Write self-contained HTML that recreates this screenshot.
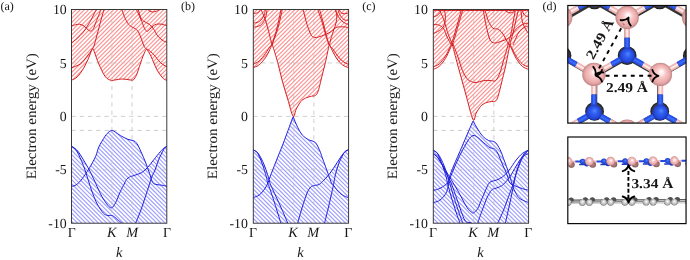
<!DOCTYPE html>
<html lang="en">
<head>
<meta charset="utf-8">
<title>Band structures</title>
<style>
html,body{margin:0;padding:0;background:#fff;}
body{width:690px;height:260px;overflow:hidden;font-family:"Liberation Serif",serif;}
svg{display:block;will-change:transform;}
text{font-family:"Liberation Serif",serif;fill:#161616;text-rendering:geometricPrecision;}
.tk{font-size:13.8px;}
.tki{font-size:14.3px;font-style:italic;}
.ax{font-size:14.2px;}
.axi{font-size:14.4px;font-style:italic;}
.pl{font-size:12px;}
.bd{font-size:13.6px;font-weight:bold;}
.grid{fill:none;stroke:#c2c2c2;stroke-width:0.8;}
.gh{stroke-dasharray:4.2 4.05;}
.gv{stroke-dasharray:4.1 4.1;stroke-dashoffset:5.5;}
.frame{fill:none;stroke:#303030;stroke-width:0.95;}
.frame2{fill:none;stroke:#0a0a0a;stroke-width:1.2;}
.hr{fill:none;stroke:#ff0000;stroke-width:1.15;stroke-opacity:0.43;}
.hb{fill:none;stroke:#0000ff;stroke-width:1.15;stroke-opacity:0.38;}
.br{fill:none;stroke:#d42022;stroke-width:1.0;stroke-linejoin:round;}
.bb{fill:none;stroke:#2020dc;stroke-width:1.0;stroke-linejoin:round;}
.dash{fill:none;stroke:#000;stroke-width:1.9;stroke-dasharray:3.9 4.5;}
</style>
</head>
<body>
<svg width="690" height="260" viewBox="0 0 690 260">
<rect x="0" y="0" width="690" height="260" fill="#fff"/>

<defs>
<radialGradient id="gB" cx="0.5" cy="0.5" r="0.5" fx="0.55" fy="0.38">
<stop offset="0" stop-color="#ffffff"/><stop offset="0.14" stop-color="#fff1f1"/><stop offset="0.42" stop-color="#f7c6c6"/><stop offset="0.78" stop-color="#eba9a9"/><stop offset="1" stop-color="#bd8787"/>
</radialGradient>
<radialGradient id="gB2" cx="0.5" cy="0.5" r="0.5">
<stop offset="0" stop-color="#b98383"/><stop offset="0.7" stop-color="#a06c6c"/><stop offset="1" stop-color="#7c5252"/>
</radialGradient>
<radialGradient id="gN" cx="0.5" cy="0.5" r="0.5" fx="0.56" fy="0.38">
<stop offset="0" stop-color="#5584ff"/><stop offset="0.4" stop-color="#2e5ef0"/><stop offset="0.8" stop-color="#2448d8"/><stop offset="1" stop-color="#1a30b0"/>
</radialGradient>
<radialGradient id="gC" cx="0.5" cy="0.5" r="0.5">
<stop offset="0" stop-color="#9a9a9a"/><stop offset="0.6" stop-color="#5a5a5a"/><stop offset="0.88" stop-color="#2c2c2c"/><stop offset="1" stop-color="#141414"/>
</radialGradient>
<radialGradient id="gG" cx="0.5" cy="0.5" r="0.5" fx="0.55" fy="0.38">
<stop offset="0" stop-color="#ffffff"/><stop offset="0.45" stop-color="#d2d2d2"/><stop offset="0.8" stop-color="#b0b0b0"/><stop offset="1" stop-color="#6e6e6e"/>
</radialGradient>
</defs>

<clipPath id="cp1"><rect x="71.50" y="9.50" width="95.30" height="213.70"/></clipPath>
<g clip-path="url(#cp1)">
<clipPath id="cr1"><path d="M71.50 7.50 L71.50 80.20 C72.45 79.67 75.22 78.93 77.20 77.00 C79.18 75.07 81.60 71.53 83.40 68.60 C85.20 65.67 86.70 62.25 88.00 59.40 C89.30 56.55 90.43 53.30 91.20 51.50 C91.97 49.70 92.10 48.60 92.60 48.60 C93.10 48.60 93.17 48.93 94.20 51.50 C95.23 54.07 97.00 59.87 98.80 64.00 C100.60 68.13 103.08 73.60 105.00 76.30 C106.92 79.00 109.15 79.50 110.30 80.20 C111.45 80.90 110.95 80.57 111.90 80.50 C112.85 80.43 114.35 80.05 116.00 79.80 C117.65 79.55 119.80 79.03 121.80 79.00 C123.80 78.97 126.20 79.40 128.00 79.60 C129.80 79.80 131.47 80.47 132.60 80.20 C133.73 79.93 134.03 79.17 134.80 78.00 C135.57 76.83 136.03 76.30 137.20 73.20 C138.37 70.10 140.50 63.02 141.80 59.40 C143.10 55.78 144.22 53.20 145.00 51.50 C145.78 49.80 145.97 49.20 146.50 49.20 C147.03 49.20 147.45 50.32 148.20 51.50 C148.95 52.68 149.50 53.18 151.00 56.30 C152.50 59.42 155.13 66.48 157.20 70.20 C159.27 73.92 161.77 76.93 163.40 78.60 C165.03 80.27 166.40 79.93 167.00 80.20 L166.80 7.50 Z"/></clipPath>
<path clip-path="url(#cr1)" d="M70.50 2.77L167.80 -94.53M70.50 6.94L167.80 -90.36M70.50 11.11L167.80 -86.19M70.50 15.28L167.80 -82.02M70.50 19.45L167.80 -77.85M70.50 23.62L167.80 -73.68M70.50 27.79L167.80 -69.51M70.50 31.96L167.80 -65.34M70.50 36.13L167.80 -61.17M70.50 40.30L167.80 -57.00M70.50 44.47L167.80 -52.83M70.50 48.64L167.80 -48.66M70.50 52.81L167.80 -44.49M70.50 56.98L167.80 -40.32M70.50 61.15L167.80 -36.15M70.50 65.32L167.80 -31.98M70.50 69.49L167.80 -27.81M70.50 73.66L167.80 -23.64M70.50 77.83L167.80 -19.47M70.50 82.00L167.80 -15.30M70.50 86.17L167.80 -11.13M70.50 90.34L167.80 -6.96M70.50 94.51L167.80 -2.79M70.50 98.68L167.80 1.38M70.50 102.85L167.80 5.55M70.50 107.02L167.80 9.72M70.50 111.19L167.80 13.89M70.50 115.36L167.80 18.06M70.50 119.53L167.80 22.23M70.50 123.70L167.80 26.40M70.50 127.87L167.80 30.57M70.50 132.04L167.80 34.74M70.50 136.21L167.80 38.91M70.50 140.38L167.80 43.08M70.50 144.55L167.80 47.25M70.50 148.72L167.80 51.42M70.50 152.89L167.80 55.59M70.50 157.06L167.80 59.76M70.50 161.23L167.80 63.93M70.50 165.40L167.80 68.10M70.50 169.57L167.80 72.27M70.50 173.74L167.80 76.44M70.50 177.91L167.80 80.61M70.50 182.08L167.80 84.78M70.50 186.25L167.80 88.95" class="hr"/>
<clipPath id="cb1"><path d="M71.50 225.20 L71.50 146.30 C72.08 146.67 73.78 147.47 75.00 148.50 C76.22 149.53 77.13 150.17 78.80 152.50 C80.47 154.83 83.40 159.75 85.00 162.50 C86.60 165.25 87.65 168.12 88.40 169.00 C89.15 169.88 88.28 169.92 89.50 167.80 C90.72 165.68 94.15 159.77 95.70 156.30 C97.25 152.83 97.25 150.33 98.80 147.00 C100.35 143.67 103.30 138.83 105.00 136.30 C106.70 133.77 107.87 132.77 109.00 131.80 C110.13 130.83 110.80 130.50 111.80 130.50 C112.80 130.50 113.58 130.97 115.00 131.80 C116.42 132.63 118.13 134.23 120.30 135.50 C122.47 136.77 125.82 138.55 128.00 139.40 C130.18 140.25 132.07 140.08 133.40 140.60 C134.73 141.12 135.10 141.43 136.00 142.50 C136.90 143.57 137.30 143.92 138.80 147.00 C140.30 150.08 143.53 157.50 145.00 161.00 C146.47 164.50 147.10 167.00 147.60 168.00 C148.10 169.00 146.93 168.43 148.00 167.00 C149.07 165.57 151.95 161.95 154.00 159.40 C156.05 156.85 158.63 153.60 160.30 151.70 C161.97 149.80 162.88 148.90 164.00 148.00 C165.12 147.10 166.50 146.58 167.00 146.30 L166.80 225.20 Z"/></clipPath>
<path clip-path="url(#cb1)" d="M70.50 24.19L167.80 121.49M70.50 28.36L167.80 125.66M70.50 32.53L167.80 129.83M70.50 36.70L167.80 134.00M70.50 40.87L167.80 138.17M70.50 45.04L167.80 142.34M70.50 49.21L167.80 146.51M70.50 53.38L167.80 150.68M70.50 57.55L167.80 154.85M70.50 61.72L167.80 159.02M70.50 65.89L167.80 163.19M70.50 70.06L167.80 167.36M70.50 74.23L167.80 171.53M70.50 78.40L167.80 175.70M70.50 82.57L167.80 179.87M70.50 86.74L167.80 184.04M70.50 90.91L167.80 188.21M70.50 95.08L167.80 192.38M70.50 99.25L167.80 196.55M70.50 103.42L167.80 200.72M70.50 107.59L167.80 204.89M70.50 111.76L167.80 209.06M70.50 115.93L167.80 213.23M70.50 120.10L167.80 217.40M70.50 124.27L167.80 221.57M70.50 128.44L167.80 225.74M70.50 132.61L167.80 229.91M70.50 136.78L167.80 234.08M70.50 140.95L167.80 238.25M70.50 145.12L167.80 242.42M70.50 149.29L167.80 246.59M70.50 153.46L167.80 250.76M70.50 157.63L167.80 254.93M70.50 161.80L167.80 259.10M70.50 165.97L167.80 263.27M70.50 170.14L167.80 267.44M70.50 174.31L167.80 271.61M70.50 178.48L167.80 275.78M70.50 182.65L167.80 279.95M70.50 186.82L167.80 284.12M70.50 190.99L167.80 288.29M70.50 195.16L167.80 292.46M70.50 199.33L167.80 296.63M70.50 203.50L167.80 300.80M70.50 207.67L167.80 304.97M70.50 211.84L167.80 309.14M70.50 216.01L167.80 313.31M70.50 220.18L167.80 317.48M70.50 224.35L167.80 321.65M70.50 228.52L167.80 325.82" class="hb"/>
<path d="M71.50 62.92H166.80M71.50 116.35H166.80M71.50 169.78H166.80M71.50 130.40H166.80" class="grid gh"/>
<path d="M111.92 9.50V223.20M132.07 9.50V223.20" class="grid gv"/>
<path d="M71.50 80.20 C72.45 79.67 75.22 78.93 77.20 77.00 C79.18 75.07 81.60 71.53 83.40 68.60 C85.20 65.67 86.70 62.25 88.00 59.40 C89.30 56.55 90.43 53.30 91.20 51.50 C91.97 49.70 92.10 48.60 92.60 48.60 C93.10 48.60 93.17 48.93 94.20 51.50 C95.23 54.07 97.00 59.87 98.80 64.00 C100.60 68.13 103.08 73.60 105.00 76.30 C106.92 79.00 109.15 79.50 110.30 80.20 C111.45 80.90 110.95 80.57 111.90 80.50 C112.85 80.43 114.35 80.05 116.00 79.80 C117.65 79.55 119.80 79.03 121.80 79.00 C123.80 78.97 126.20 79.40 128.00 79.60 C129.80 79.80 131.47 80.47 132.60 80.20 C133.73 79.93 134.03 79.17 134.80 78.00 C135.57 76.83 136.03 76.30 137.20 73.20 C138.37 70.10 140.50 63.02 141.80 59.40 C143.10 55.78 144.22 53.20 145.00 51.50 C145.78 49.80 145.97 49.20 146.50 49.20 C147.03 49.20 147.45 50.32 148.20 51.50 C148.95 52.68 149.50 53.18 151.00 56.30 C152.50 59.42 155.13 66.48 157.20 70.20 C159.27 73.92 161.77 76.93 163.40 78.60 C165.03 80.27 166.40 79.93 167.00 80.20M71.50 67.80 C72.97 67.17 77.80 65.80 80.30 64.00 C82.80 62.20 84.45 59.57 86.50 57.00 C88.55 54.43 91.35 50.43 92.60 48.60 C93.85 46.77 93.27 48.27 94.00 46.00 C94.73 43.73 95.83 39.33 97.00 35.00 C98.17 30.67 99.83 24.25 101.00 20.00 C102.17 15.75 103.50 11.25 104.00 9.50M71.50 26.00 C72.17 25.80 74.17 25.10 75.50 24.80 C76.83 24.50 78.08 24.00 79.50 24.20 C80.92 24.40 82.58 25.07 84.00 26.00 C85.42 26.93 86.83 28.97 88.00 29.80 C89.17 30.63 90.08 31.22 91.00 31.00 C91.92 30.78 92.67 30.00 93.50 28.50 C94.33 27.00 94.75 25.17 96.00 22.00 C97.25 18.83 100.17 11.58 101.00 9.50M71.50 43.00 C72.42 42.25 75.02 40.33 77.00 38.50 C78.98 36.67 81.57 34.25 83.40 32.00 C85.23 29.75 86.73 27.00 88.00 25.00 C89.27 23.00 90.00 21.83 91.00 20.00 C92.00 18.17 93.08 15.75 94.00 14.00 C94.92 12.25 96.08 10.25 96.50 9.50M121.80 9.50 C122.38 11.03 124.15 16.20 125.30 18.70 C126.45 21.20 127.58 23.12 128.70 24.50 C129.82 25.88 130.83 26.25 132.00 27.00 C133.17 27.75 134.53 28.00 135.70 29.00 C136.87 30.00 137.62 30.17 139.00 33.00 C140.38 35.83 142.75 43.30 144.00 46.00 C145.25 48.70 146.08 48.67 146.50 49.20M136.30 9.50 C136.67 10.25 137.58 12.02 138.50 14.00 C139.42 15.98 140.80 18.98 141.80 21.40 C142.80 23.82 143.63 26.83 144.50 28.50 C145.37 30.17 146.17 31.23 147.00 31.40 C147.83 31.57 148.47 30.42 149.50 29.50 C150.53 28.58 152.02 26.78 153.20 25.90 C154.38 25.02 155.18 24.48 156.60 24.20 C158.02 23.92 159.97 23.93 161.70 24.20 C163.43 24.47 166.12 25.53 167.00 25.80M138.20 9.50 C138.58 10.75 139.62 15.08 140.50 17.00 C141.38 18.92 142.25 19.92 143.50 21.00 C144.75 22.08 146.67 22.62 148.00 23.50 C149.33 24.38 150.42 25.13 151.50 26.30 C152.58 27.47 153.55 29.02 154.50 30.50 C155.45 31.98 155.95 33.62 157.20 35.20 C158.45 36.78 160.37 38.78 162.00 40.00 C163.63 41.22 166.17 42.08 167.00 42.50M147.70 9.50 C148.08 9.78 149.22 10.80 150.00 11.20 C150.78 11.60 151.30 11.90 152.40 11.90 C153.50 11.90 155.33 11.60 156.60 11.20 C157.87 10.80 159.43 9.78 160.00 9.50M167.00 67.00 C165.88 66.25 162.47 64.53 160.30 62.50 C158.13 60.47 156.05 56.95 154.00 54.80 C151.95 52.65 149.25 50.53 148.00 49.60 C146.75 48.67 146.75 49.27 146.50 49.20" class="br"/>
<path d="M71.50 186.30 C72.08 186.17 73.67 186.22 75.00 185.50 C76.33 184.78 77.83 183.78 79.50 182.00 C81.17 180.22 83.33 177.17 85.00 174.80 C86.67 172.43 87.72 170.88 89.50 167.80 C91.28 164.72 94.15 159.77 95.70 156.30 C97.25 152.83 97.25 150.33 98.80 147.00 C100.35 143.67 103.30 138.83 105.00 136.30 C106.70 133.77 107.87 132.77 109.00 131.80 C110.13 130.83 110.80 130.50 111.80 130.50 C112.80 130.50 113.58 130.97 115.00 131.80 C116.42 132.63 118.13 134.23 120.30 135.50 C122.47 136.77 125.82 138.55 128.00 139.40 C130.18 140.25 132.07 140.08 133.40 140.60 C134.73 141.12 135.10 141.43 136.00 142.50 C136.90 143.57 137.30 143.92 138.80 147.00 C140.30 150.08 143.22 156.63 145.00 161.00 C146.78 165.37 148.23 169.62 149.50 173.20 C150.77 176.78 151.35 180.60 152.60 182.50 C153.85 184.40 155.47 184.15 157.00 184.60 C158.53 185.05 160.13 184.92 161.80 185.20 C163.47 185.48 166.13 186.12 167.00 186.30M71.50 146.30 C72.08 146.67 73.78 147.47 75.00 148.50 C76.22 149.53 77.13 150.17 78.80 152.50 C80.47 154.83 82.97 159.05 85.00 162.50 C87.03 165.95 89.22 169.70 91.00 173.20 C92.78 176.70 93.90 179.65 95.70 183.50 C97.50 187.35 99.75 192.63 101.80 196.30 C103.85 199.97 106.33 203.58 108.00 205.50 C109.67 207.42 110.52 208.30 111.80 207.80 C113.08 207.30 114.28 205.18 115.70 202.50 C117.12 199.82 118.88 194.78 120.30 191.70 C121.72 188.62 123.17 186.03 124.20 184.00 C125.23 181.97 125.62 180.67 126.50 179.50 C127.38 178.33 128.25 177.67 129.50 177.00 C130.75 176.33 131.95 176.25 134.00 175.50 C136.05 174.75 139.47 173.92 141.80 172.50 C144.13 171.08 145.97 169.18 148.00 167.00 C150.03 164.82 151.95 161.95 154.00 159.40 C156.05 156.85 158.63 153.60 160.30 151.70 C161.97 149.80 162.88 148.90 164.00 148.00 C165.12 147.10 166.50 146.58 167.00 146.30M71.50 146.30 C72.00 146.67 73.55 147.60 74.50 148.50 C75.45 149.40 75.72 148.87 77.20 151.70 C78.68 154.53 81.60 160.88 83.40 165.50 C85.20 170.12 86.47 174.78 88.00 179.40 C89.53 184.02 91.07 189.10 92.60 193.20 C94.13 197.30 95.40 200.67 97.20 204.00 C99.00 207.33 101.60 211.28 103.40 213.20 C105.20 215.12 106.47 215.08 108.00 215.50 C109.53 215.92 111.07 215.05 112.60 215.70 C114.13 216.35 115.67 218.18 117.20 219.40 C118.73 220.62 121.03 222.40 121.80 223.00M135.70 223.00 C136.47 221.12 138.75 215.90 140.30 211.70 C141.85 207.50 143.47 202.42 145.00 197.80 C146.53 193.18 148.37 187.47 149.50 184.00 C150.63 180.53 150.88 179.33 151.80 177.00 C152.72 174.67 153.83 172.93 155.00 170.00 C156.17 167.07 157.40 162.73 158.80 159.40 C160.20 156.07 162.28 152.02 163.40 150.00 C164.52 147.98 164.90 147.92 165.50 147.30 C166.10 146.68 166.75 146.47 167.00 146.30" class="bb"/>
</g>
<rect x="71.50" y="9.50" width="95.30" height="213.70" class="frame"/>
<text x="66.70" y="14.10" class="tk" text-anchor="end">10</text>
<text x="66.70" y="67.52" class="tk" text-anchor="end">5</text>
<text x="66.70" y="120.95" class="tk" text-anchor="end">0</text>
<text x="66.70" y="174.38" class="tk" text-anchor="end">-5</text>
<text x="66.70" y="227.80" class="tk" text-anchor="end">-10</text>
<text x="71.80" y="237.40" class="tk" text-anchor="middle">Γ</text>
<text x="111.77" y="237.40" class="tki" text-anchor="middle">K</text>
<text x="132.12" y="237.40" class="tki" text-anchor="middle">M</text>
<text x="167.10" y="237.40" class="tk" text-anchor="middle">Γ</text>
<text x="119.15" y="256.60" class="axi" text-anchor="middle">k</text>
<text transform="translate(35.90 116.15) rotate(-90)" class="ax" text-anchor="middle" textLength="126" lengthAdjust="spacingAndGlyphs">Electron energy (eV)</text>
<text x="0.50" y="10.30" class="pl">(a)</text>
<clipPath id="cp2"><rect x="253.30" y="9.50" width="95.30" height="213.70"/></clipPath>
<g clip-path="url(#cp2)">
<clipPath id="cr2"><path d="M253.30 7.50 L253.00 67.80 C254.03 67.30 257.13 66.47 259.20 64.80 C261.27 63.13 263.73 60.10 265.40 57.80 C267.07 55.50 268.12 53.17 269.20 51.00 C270.28 48.83 271.33 45.72 271.90 44.80 C272.47 43.88 271.63 42.55 272.60 45.50 C273.57 48.45 276.08 56.58 277.70 62.50 C279.32 68.42 280.63 74.92 282.30 81.00 C283.97 87.08 285.90 93.10 287.70 99.00 C289.50 104.90 291.68 114.70 293.10 116.40 C294.52 118.10 294.92 111.68 296.20 109.20 C297.48 106.72 299.27 103.33 300.80 101.50 C302.33 99.67 303.62 99.08 305.40 98.20 C307.18 97.32 309.97 96.60 311.50 96.20 C313.03 95.80 313.68 96.20 314.60 95.80 C315.52 95.40 316.23 95.15 317.00 93.80 C317.77 92.45 318.53 90.00 319.20 87.70 C319.87 85.40 319.97 84.20 321.00 80.00 C322.03 75.80 324.07 68.20 325.40 62.50 C326.73 56.80 328.27 48.65 329.00 45.80 C329.73 42.95 329.13 44.37 329.80 45.40 C330.47 46.43 331.80 49.73 333.00 52.00 C334.20 54.27 335.45 56.87 337.00 59.00 C338.55 61.13 340.38 63.33 342.30 64.80 C344.22 66.27 347.47 67.30 348.50 67.80 L348.60 7.50 Z"/></clipPath>
<path clip-path="url(#cr2)" d="M252.30 2.07L349.60 -95.23M252.30 6.24L349.60 -91.06M252.30 10.41L349.60 -86.89M252.30 14.58L349.60 -82.72M252.30 18.75L349.60 -78.55M252.30 22.92L349.60 -74.38M252.30 27.09L349.60 -70.21M252.30 31.26L349.60 -66.04M252.30 35.43L349.60 -61.87M252.30 39.60L349.60 -57.70M252.30 43.77L349.60 -53.53M252.30 47.94L349.60 -49.36M252.30 52.11L349.60 -45.19M252.30 56.28L349.60 -41.02M252.30 60.45L349.60 -36.85M252.30 64.62L349.60 -32.68M252.30 68.79L349.60 -28.51M252.30 72.96L349.60 -24.34M252.30 77.13L349.60 -20.17M252.30 81.30L349.60 -16.00M252.30 85.47L349.60 -11.83M252.30 89.64L349.60 -7.66M252.30 93.81L349.60 -3.49M252.30 97.98L349.60 0.68M252.30 102.15L349.60 4.85M252.30 106.32L349.60 9.02M252.30 110.49L349.60 13.19M252.30 114.66L349.60 17.36M252.30 118.83L349.60 21.53M252.30 123.00L349.60 25.70M252.30 127.17L349.60 29.87M252.30 131.34L349.60 34.04M252.30 135.51L349.60 38.21M252.30 139.68L349.60 42.38M252.30 143.85L349.60 46.55M252.30 148.02L349.60 50.72M252.30 152.19L349.60 54.89M252.30 156.36L349.60 59.06M252.30 160.53L349.60 63.23M252.30 164.70L349.60 67.40M252.30 168.87L349.60 71.57M252.30 173.04L349.60 75.74M252.30 177.21L349.60 79.91M252.30 181.38L349.60 84.08M252.30 185.55L349.60 88.25M252.30 189.72L349.60 92.42M252.30 193.89L349.60 96.59M252.30 198.06L349.60 100.76M252.30 202.23L349.60 104.93M252.30 206.40L349.60 109.10M252.30 210.57L349.60 113.27M252.30 214.74L349.60 117.44M252.30 218.91L349.60 121.61" class="hr"/>
<clipPath id="cb2"><path d="M253.30 225.20 L253.00 149.80 C253.50 150.08 254.97 150.67 256.00 151.50 C257.03 152.33 257.90 152.72 259.20 154.80 C260.50 156.88 262.38 160.67 263.80 164.00 C265.22 167.33 266.87 172.38 267.70 174.80 C268.53 177.22 268.42 178.13 268.80 178.50 C269.18 178.87 268.77 179.92 270.00 177.00 C271.23 174.08 274.03 166.50 276.20 161.00 C278.37 155.50 281.03 149.08 283.00 144.00 C284.97 138.92 286.32 135.03 288.00 130.50 C289.68 125.97 291.48 117.32 293.10 116.80 C294.72 116.28 296.17 124.37 297.70 127.40 C299.23 130.43 300.50 132.95 302.30 135.00 C304.10 137.05 306.72 138.67 308.50 139.70 C310.28 140.73 311.72 140.57 313.00 141.20 C314.28 141.83 315.03 141.83 316.20 143.50 C317.37 145.17 318.98 148.82 320.00 151.20 C321.02 153.58 320.88 153.87 322.30 157.80 C323.72 161.73 327.32 171.68 328.50 174.80 C329.68 177.92 329.15 176.77 329.40 176.50 C329.65 176.23 328.87 175.28 330.00 173.20 C331.13 171.12 334.15 167.07 336.20 164.00 C338.25 160.93 340.75 156.88 342.30 154.80 C343.85 152.72 344.47 152.33 345.50 151.50 C346.53 150.67 348.00 150.08 348.50 149.80 L348.60 225.20 Z"/></clipPath>
<path clip-path="url(#cb2)" d="M252.30 13.09L349.60 110.39M252.30 17.26L349.60 114.56M252.30 21.43L349.60 118.73M252.30 25.60L349.60 122.90M252.30 29.77L349.60 127.07M252.30 33.94L349.60 131.24M252.30 38.11L349.60 135.41M252.30 42.28L349.60 139.58M252.30 46.45L349.60 143.75M252.30 50.62L349.60 147.92M252.30 54.79L349.60 152.09M252.30 58.96L349.60 156.26M252.30 63.13L349.60 160.43M252.30 67.30L349.60 164.60M252.30 71.47L349.60 168.77M252.30 75.64L349.60 172.94M252.30 79.81L349.60 177.11M252.30 83.98L349.60 181.28M252.30 88.15L349.60 185.45M252.30 92.32L349.60 189.62M252.30 96.49L349.60 193.79M252.30 100.66L349.60 197.96M252.30 104.83L349.60 202.13M252.30 109.00L349.60 206.30M252.30 113.17L349.60 210.47M252.30 117.34L349.60 214.64M252.30 121.51L349.60 218.81M252.30 125.68L349.60 222.98M252.30 129.85L349.60 227.15M252.30 134.02L349.60 231.32M252.30 138.19L349.60 235.49M252.30 142.36L349.60 239.66M252.30 146.53L349.60 243.83M252.30 150.70L349.60 248.00M252.30 154.87L349.60 252.17M252.30 159.04L349.60 256.34M252.30 163.21L349.60 260.51M252.30 167.38L349.60 264.68M252.30 171.55L349.60 268.85M252.30 175.72L349.60 273.02M252.30 179.89L349.60 277.19M252.30 184.06L349.60 281.36M252.30 188.23L349.60 285.53M252.30 192.40L349.60 289.70M252.30 196.57L349.60 293.87M252.30 200.74L349.60 298.04M252.30 204.91L349.60 302.21M252.30 209.08L349.60 306.38M252.30 213.25L349.60 310.55M252.30 217.42L349.60 314.72M252.30 221.59L349.60 318.89M252.30 225.76L349.60 323.06M252.30 229.93L349.60 327.23" class="hb"/>
<path d="M253.30 62.92H348.60M253.30 116.35H348.60M253.30 169.78H348.60" class="grid gh"/>
<path d="M293.72 9.50V223.20M313.87 9.50V223.20" class="grid gv"/>
<path d="M253.00 67.80 C254.03 67.30 257.13 66.47 259.20 64.80 C261.27 63.13 263.73 60.10 265.40 57.80 C267.07 55.50 268.12 53.17 269.20 51.00 C270.28 48.83 271.33 45.72 271.90 44.80 C272.47 43.88 271.63 42.55 272.60 45.50 C273.57 48.45 276.08 56.58 277.70 62.50 C279.32 68.42 280.63 74.92 282.30 81.00 C283.97 87.08 285.90 93.10 287.70 99.00 C289.50 104.90 291.68 114.70 293.10 116.40 C294.52 118.10 294.92 111.68 296.20 109.20 C297.48 106.72 299.27 103.33 300.80 101.50 C302.33 99.67 303.62 99.08 305.40 98.20 C307.18 97.32 309.97 96.60 311.50 96.20 C313.03 95.80 313.68 96.20 314.60 95.80 C315.52 95.40 316.23 95.15 317.00 93.80 C317.77 92.45 318.53 90.00 319.20 87.70 C319.87 85.40 319.97 84.20 321.00 80.00 C322.03 75.80 324.07 68.20 325.40 62.50 C326.73 56.80 328.27 48.65 329.00 45.80 C329.73 42.95 329.13 44.37 329.80 45.40 C330.47 46.43 331.80 49.73 333.00 52.00 C334.20 54.27 335.45 56.87 337.00 59.00 C338.55 61.13 340.38 63.33 342.30 64.80 C344.22 66.27 347.47 67.30 348.50 67.80M253.00 64.40 C254.03 63.83 257.13 62.80 259.20 61.00 C261.27 59.20 263.67 55.93 265.40 53.60 C267.13 51.27 268.52 48.47 269.60 47.00 C270.68 45.53 271.17 46.30 271.90 44.80 C272.63 43.30 273.15 40.80 274.00 38.00 C274.85 35.20 275.83 32.75 277.00 28.00 C278.17 23.25 280.33 12.58 281.00 9.50M271.90 44.80 C272.42 43.50 273.90 40.13 275.00 37.00 C276.10 33.87 277.28 30.58 278.50 26.00 C279.72 21.42 281.67 12.25 282.30 9.50M348.50 64.40 C347.47 63.83 344.22 62.57 342.30 61.00 C340.38 59.43 338.63 57.08 337.00 55.00 C335.37 52.92 333.75 50.08 332.50 48.50 C331.25 46.92 330.42 47.25 329.50 45.50 C328.58 43.75 328.08 41.92 327.00 38.00 C325.92 34.08 324.23 26.75 323.00 22.00 C321.77 17.25 320.17 11.58 319.60 9.50M329.50 45.50 C328.92 43.92 327.25 39.92 326.00 36.00 C324.75 32.08 323.37 26.42 322.00 22.00 C320.63 17.58 318.50 11.58 317.80 9.50M253.30 23.00 C254.17 22.83 256.93 22.85 258.50 22.00 C260.07 21.15 261.68 19.32 262.70 17.90 C263.72 16.48 264.17 14.90 264.60 13.50 C265.03 12.10 265.18 10.17 265.30 9.50M253.30 27.20 C254.45 26.92 258.35 26.63 260.20 25.50 C262.05 24.37 263.40 22.15 264.40 20.40 C265.40 18.65 265.77 16.82 266.20 15.00 C266.63 13.18 266.87 10.42 267.00 9.50M253.30 13.60 C254.02 13.47 256.58 13.17 257.60 12.80 C258.62 12.43 258.97 11.95 259.40 11.40 C259.83 10.85 260.07 9.82 260.20 9.50M261.00 9.50 C261.72 11.18 264.03 15.95 265.30 19.60 C266.57 23.25 267.62 27.73 268.60 31.40 C269.58 35.07 270.58 39.17 271.20 41.60 C271.82 44.03 272.12 45.27 272.30 46.00M303.10 9.50 C303.42 10.75 304.35 14.50 305.00 17.00 C305.65 19.50 306.03 21.58 307.00 24.50 C307.97 27.42 309.72 32.42 310.80 34.50 C311.88 36.58 312.60 36.50 313.50 37.00 C314.40 37.50 315.12 37.58 316.20 37.50 C317.28 37.42 318.73 36.88 320.00 36.50 C321.27 36.12 322.13 35.92 323.80 35.20 C325.47 34.48 327.93 33.47 330.00 32.20 C332.07 30.93 334.15 28.50 336.20 27.60 C338.25 26.70 340.25 26.82 342.30 26.80 C344.35 26.78 347.47 27.38 348.50 27.50M348.60 20.40 C347.82 20.27 345.38 20.58 343.90 19.60 C342.42 18.62 340.68 16.18 339.70 14.50 C338.72 12.82 338.28 10.33 338.00 9.50M335.40 9.50 C335.70 10.25 336.48 12.47 337.20 14.00 C337.92 15.53 338.57 17.27 339.70 18.70 C340.83 20.13 342.52 21.62 344.00 22.60 C345.48 23.58 347.83 24.27 348.60 24.60M338.80 9.50 C339.10 9.95 339.90 11.52 340.60 12.20 C341.30 12.88 342.10 13.37 343.00 13.60 C343.90 13.83 345.07 13.73 346.00 13.60 C346.93 13.47 348.17 12.93 348.60 12.80M335.40 9.50 C335.63 10.58 336.70 13.75 336.80 16.00 C336.90 18.25 336.52 20.67 336.00 23.00 C335.48 25.33 334.43 27.75 333.70 30.00 C332.97 32.25 332.17 34.67 331.60 36.50 C331.03 38.33 330.63 39.55 330.30 41.00 C329.97 42.45 329.72 44.50 329.60 45.20" class="br"/>
<path d="M253.00 197.80 C254.03 197.33 257.40 196.27 259.20 195.00 C261.00 193.73 262.38 192.10 263.80 190.20 C265.22 188.30 266.67 185.80 267.70 183.60 C268.73 181.40 268.58 180.77 270.00 177.00 C271.42 173.23 274.03 166.50 276.20 161.00 C278.37 155.50 281.03 149.08 283.00 144.00 C284.97 138.92 286.32 135.03 288.00 130.50 C289.68 125.97 292.25 119.08 293.10 116.80M293.10 116.80 C293.87 118.57 296.17 124.37 297.70 127.40 C299.23 130.43 300.50 132.95 302.30 135.00 C304.10 137.05 306.72 138.67 308.50 139.70 C310.28 140.73 311.72 140.57 313.00 141.20 C314.28 141.83 315.03 141.83 316.20 143.50 C317.37 145.17 318.98 148.82 320.00 151.20 C321.02 153.58 320.88 153.87 322.30 157.80 C323.72 161.73 326.97 170.57 328.50 174.80 C330.03 179.03 330.75 181.57 331.50 183.20 C332.25 184.83 331.97 183.30 333.00 184.60 C334.03 185.90 336.15 189.27 337.70 191.00 C339.25 192.73 340.50 193.87 342.30 195.00 C344.10 196.13 347.47 197.33 348.50 197.80M253.00 149.80 C253.50 150.08 254.97 150.67 256.00 151.50 C257.03 152.33 257.90 152.72 259.20 154.80 C260.50 156.88 262.38 160.67 263.80 164.00 C265.22 167.33 266.67 171.60 267.70 174.80 C268.73 178.00 269.12 180.67 270.00 183.20 C270.88 185.73 271.20 186.03 273.00 190.00 C274.80 193.97 278.35 201.50 280.80 207.00 C283.25 212.50 286.55 220.33 287.70 223.00M253.00 149.80 C253.42 150.00 254.72 150.43 255.50 151.00 C256.28 151.57 256.57 151.03 257.70 153.20 C258.83 155.37 260.88 160.15 262.30 164.00 C263.72 167.85 265.30 173.10 266.20 176.30 C267.10 179.50 267.20 181.42 267.70 183.20 C268.20 184.98 268.05 183.70 269.20 187.00 C270.35 190.30 272.67 197.00 274.60 203.00 C276.53 209.00 279.77 219.67 280.80 223.00M297.70 223.00 C298.47 220.33 300.75 211.97 302.30 207.00 C303.85 202.03 305.58 196.53 307.00 193.20 C308.42 189.87 309.53 188.28 310.80 187.00 C312.07 185.72 313.20 185.93 314.60 185.50 C316.00 185.07 317.67 185.28 319.20 184.40 C320.73 183.52 322.00 182.07 323.80 180.20 C325.60 178.33 327.93 175.90 330.00 173.20 C332.07 170.50 334.15 167.07 336.20 164.00 C338.25 160.93 340.75 156.88 342.30 154.80 C343.85 152.72 344.47 152.33 345.50 151.50 C346.53 150.67 348.00 150.08 348.50 149.80M324.60 223.00 C325.25 220.33 327.22 212.47 328.50 207.00 C329.78 201.53 331.42 194.17 332.30 190.20 C333.18 186.23 333.28 185.77 333.80 183.20 C334.32 180.63 334.50 178.25 335.40 174.80 C336.30 171.35 337.80 166.10 339.20 162.50 C340.60 158.90 342.67 155.15 343.80 153.20 C344.93 151.25 345.22 151.37 346.00 150.80 C346.78 150.23 348.08 149.97 348.50 149.80" class="bb"/>
</g>
<rect x="253.30" y="9.50" width="95.30" height="213.70" class="frame"/>
<text x="247.90" y="14.10" class="tk" text-anchor="end">10</text>
<text x="247.90" y="67.52" class="tk" text-anchor="end">5</text>
<text x="247.90" y="120.95" class="tk" text-anchor="end">0</text>
<text x="247.90" y="174.38" class="tk" text-anchor="end">-5</text>
<text x="247.90" y="227.80" class="tk" text-anchor="end">-10</text>
<text x="253.00" y="237.40" class="tk" text-anchor="middle">Γ</text>
<text x="292.97" y="237.40" class="tki" text-anchor="middle">K</text>
<text x="313.32" y="237.40" class="tki" text-anchor="middle">M</text>
<text x="348.30" y="237.40" class="tk" text-anchor="middle">Γ</text>
<text x="300.35" y="256.60" class="axi" text-anchor="middle">k</text>
<text transform="translate(216.70 116.15) rotate(-90)" class="ax" text-anchor="middle" textLength="126" lengthAdjust="spacingAndGlyphs">Electron energy (eV)</text>
<text x="181.00" y="10.30" class="pl">(b)</text>
<clipPath id="cp3"><rect x="433.30" y="9.50" width="95.30" height="213.70"/></clipPath>
<g clip-path="url(#cp3)">
<clipPath id="cr3"><path d="M433.30 7.50 L433.00 67.00 C434.03 66.50 437.13 65.78 439.20 64.00 C441.27 62.22 443.60 59.13 445.40 56.30 C447.20 53.47 448.97 49.12 450.00 47.00 C451.03 44.88 451.20 43.93 451.60 43.60 C452.00 43.27 451.63 42.37 452.40 45.00 C453.17 47.63 454.80 54.18 456.20 59.40 C457.60 64.62 459.17 70.37 460.80 76.30 C462.43 82.23 463.97 87.78 466.00 95.00 C468.03 102.22 471.30 116.60 473.00 119.60 C474.70 122.60 474.90 115.23 476.20 113.00 C477.50 110.77 479.27 107.87 480.80 106.20 C482.33 104.53 483.62 103.78 485.40 103.00 C487.18 102.22 489.97 101.75 491.50 101.50 C493.03 101.25 493.68 101.88 494.60 101.50 C495.52 101.12 496.23 100.73 497.00 99.20 C497.77 97.67 498.45 95.00 499.20 92.30 C499.95 89.60 500.47 87.22 501.50 83.00 C502.53 78.78 504.23 72.22 505.40 67.00 C506.57 61.78 507.75 55.45 508.50 51.70 C509.25 47.95 509.53 45.52 509.90 44.50 C510.27 43.48 509.65 43.63 510.70 45.60 C511.75 47.57 514.27 53.23 516.20 56.30 C518.13 59.37 520.25 62.22 522.30 64.00 C524.35 65.78 527.47 66.50 528.50 67.00 L528.60 7.50 Z"/></clipPath>
<path clip-path="url(#cr3)" d="M432.30 2.07L529.60 -95.23M432.30 6.24L529.60 -91.06M432.30 10.41L529.60 -86.89M432.30 14.58L529.60 -82.72M432.30 18.75L529.60 -78.55M432.30 22.92L529.60 -74.38M432.30 27.09L529.60 -70.21M432.30 31.26L529.60 -66.04M432.30 35.43L529.60 -61.87M432.30 39.60L529.60 -57.70M432.30 43.77L529.60 -53.53M432.30 47.94L529.60 -49.36M432.30 52.11L529.60 -45.19M432.30 56.28L529.60 -41.02M432.30 60.45L529.60 -36.85M432.30 64.62L529.60 -32.68M432.30 68.79L529.60 -28.51M432.30 72.96L529.60 -24.34M432.30 77.13L529.60 -20.17M432.30 81.30L529.60 -16.00M432.30 85.47L529.60 -11.83M432.30 89.64L529.60 -7.66M432.30 93.81L529.60 -3.49M432.30 97.98L529.60 0.68M432.30 102.15L529.60 4.85M432.30 106.32L529.60 9.02M432.30 110.49L529.60 13.19M432.30 114.66L529.60 17.36M432.30 118.83L529.60 21.53M432.30 123.00L529.60 25.70M432.30 127.17L529.60 29.87M432.30 131.34L529.60 34.04M432.30 135.51L529.60 38.21M432.30 139.68L529.60 42.38M432.30 143.85L529.60 46.55M432.30 148.02L529.60 50.72M432.30 152.19L529.60 54.89M432.30 156.36L529.60 59.06M432.30 160.53L529.60 63.23M432.30 164.70L529.60 67.40M432.30 168.87L529.60 71.57M432.30 173.04L529.60 75.74M432.30 177.21L529.60 79.91M432.30 181.38L529.60 84.08M432.30 185.55L529.60 88.25M432.30 189.72L529.60 92.42M432.30 193.89L529.60 96.59M432.30 198.06L529.60 100.76M432.30 202.23L529.60 104.93M432.30 206.40L529.60 109.10M432.30 210.57L529.60 113.27M432.30 214.74L529.60 117.44M432.30 218.91L529.60 121.61M432.30 223.08L529.60 125.78" class="hr"/>
<clipPath id="cb3"><path d="M433.30 225.20 L433.00 150.20 C433.50 150.50 434.97 151.12 436.00 152.00 C437.03 152.88 437.90 153.33 439.20 155.50 C440.50 157.67 442.38 161.58 443.80 165.00 C445.22 168.42 446.90 173.75 447.70 176.00 C448.50 178.25 448.25 178.50 448.60 178.50 C448.95 178.50 448.65 178.83 449.80 176.00 C450.95 173.17 453.80 165.63 455.50 161.50 C457.20 157.37 458.17 155.45 460.00 151.20 C461.83 146.95 464.33 141.02 466.50 136.00 C468.67 130.98 471.13 122.27 473.00 121.10 C474.87 119.93 476.15 126.55 477.70 129.00 C479.25 131.45 480.50 133.88 482.30 135.80 C484.10 137.72 486.58 139.55 488.50 140.50 C490.42 141.45 492.38 140.87 493.80 141.50 C495.22 142.13 495.83 142.68 497.00 144.30 C498.17 145.92 499.72 148.83 500.80 151.20 C501.88 153.57 502.05 154.53 503.50 158.50 C504.95 162.47 508.37 171.92 509.50 175.00 C510.63 178.08 510.05 177.17 510.30 177.00 C510.55 176.83 509.97 176.08 511.00 174.00 C512.03 171.92 514.62 167.58 516.50 164.50 C518.38 161.42 520.80 157.58 522.30 155.50 C523.80 153.42 524.47 152.88 525.50 152.00 C526.53 151.12 528.00 150.50 528.50 150.20 L528.60 225.20 Z"/></clipPath>
<path clip-path="url(#cb3)" d="M432.30 17.26L529.60 114.56M432.30 21.43L529.60 118.73M432.30 25.60L529.60 122.90M432.30 29.77L529.60 127.07M432.30 33.94L529.60 131.24M432.30 38.11L529.60 135.41M432.30 42.28L529.60 139.58M432.30 46.45L529.60 143.75M432.30 50.62L529.60 147.92M432.30 54.79L529.60 152.09M432.30 58.96L529.60 156.26M432.30 63.13L529.60 160.43M432.30 67.30L529.60 164.60M432.30 71.47L529.60 168.77M432.30 75.64L529.60 172.94M432.30 79.81L529.60 177.11M432.30 83.98L529.60 181.28M432.30 88.15L529.60 185.45M432.30 92.32L529.60 189.62M432.30 96.49L529.60 193.79M432.30 100.66L529.60 197.96M432.30 104.83L529.60 202.13M432.30 109.00L529.60 206.30M432.30 113.17L529.60 210.47M432.30 117.34L529.60 214.64M432.30 121.51L529.60 218.81M432.30 125.68L529.60 222.98M432.30 129.85L529.60 227.15M432.30 134.02L529.60 231.32M432.30 138.19L529.60 235.49M432.30 142.36L529.60 239.66M432.30 146.53L529.60 243.83M432.30 150.70L529.60 248.00M432.30 154.87L529.60 252.17M432.30 159.04L529.60 256.34M432.30 163.21L529.60 260.51M432.30 167.38L529.60 264.68M432.30 171.55L529.60 268.85M432.30 175.72L529.60 273.02M432.30 179.89L529.60 277.19M432.30 184.06L529.60 281.36M432.30 188.23L529.60 285.53M432.30 192.40L529.60 289.70M432.30 196.57L529.60 293.87M432.30 200.74L529.60 298.04M432.30 204.91L529.60 302.21M432.30 209.08L529.60 306.38M432.30 213.25L529.60 310.55M432.30 217.42L529.60 314.72M432.30 221.59L529.60 318.89M432.30 225.76L529.60 323.06M432.30 229.93L529.60 327.23" class="hb"/>
<path d="M433.30 62.92H528.60M433.30 116.35H528.60M433.30 169.78H528.60M433.30 130.40H528.60" class="grid gh"/>
<path d="M473.72 9.50V223.20M493.87 9.50V223.20" class="grid gv"/>
<path d="M433.00 67.00 C434.03 66.50 437.13 65.78 439.20 64.00 C441.27 62.22 443.60 59.13 445.40 56.30 C447.20 53.47 448.97 49.12 450.00 47.00 C451.03 44.88 451.20 43.93 451.60 43.60 C452.00 43.27 451.63 42.37 452.40 45.00 C453.17 47.63 454.80 54.18 456.20 59.40 C457.60 64.62 459.17 70.37 460.80 76.30 C462.43 82.23 463.97 87.78 466.00 95.00 C468.03 102.22 471.30 116.60 473.00 119.60 C474.70 122.60 474.90 115.23 476.20 113.00 C477.50 110.77 479.27 107.87 480.80 106.20 C482.33 104.53 483.62 103.78 485.40 103.00 C487.18 102.22 489.97 101.75 491.50 101.50 C493.03 101.25 493.68 101.88 494.60 101.50 C495.52 101.12 496.23 100.73 497.00 99.20 C497.77 97.67 498.45 95.00 499.20 92.30 C499.95 89.60 500.47 87.22 501.50 83.00 C502.53 78.78 504.23 72.22 505.40 67.00 C506.57 61.78 507.75 55.45 508.50 51.70 C509.25 47.95 509.53 45.52 509.90 44.50 C510.27 43.48 509.65 43.63 510.70 45.60 C511.75 47.57 514.27 53.23 516.20 56.30 C518.13 59.37 520.25 62.22 522.30 64.00 C524.35 65.78 527.47 66.50 528.50 67.00M433.00 69.50 C434.03 68.97 437.13 68.12 439.20 66.30 C441.27 64.48 443.60 61.48 445.40 58.60 C447.20 55.72 448.87 51.37 450.00 49.00 C451.13 46.63 451.70 45.23 452.20 44.40 C452.70 43.57 452.08 42.02 453.00 44.00 C453.92 45.98 456.15 51.93 457.70 56.30 C459.25 60.67 460.75 66.48 462.30 70.20 C463.85 73.92 465.47 76.68 467.00 78.60 C468.53 80.52 469.97 81.05 471.50 81.70 C473.03 82.35 474.15 82.68 476.20 82.50 C478.25 82.32 481.25 80.92 483.80 80.60 C486.35 80.28 489.70 80.53 491.50 80.60 C493.30 80.67 493.57 81.47 494.60 81.00 C495.63 80.53 496.67 79.60 497.70 77.80 C498.73 76.00 499.78 73.27 500.80 70.20 C501.82 67.13 502.77 63.00 503.80 59.40 C504.83 55.80 506.22 51.17 507.00 48.60 C507.78 46.03 507.92 44.35 508.50 44.00 C509.08 43.65 509.22 44.08 510.50 46.50 C511.78 48.92 514.23 55.20 516.20 58.50 C518.17 61.80 520.25 64.47 522.30 66.30 C524.35 68.13 527.47 68.97 528.50 69.50M451.60 43.60 C452.00 42.33 452.93 39.60 454.00 36.00 C455.07 32.40 456.75 26.42 458.00 22.00 C459.25 17.58 460.92 11.58 461.50 9.50M452.60 44.00 C453.08 42.50 454.35 38.83 455.50 35.00 C456.65 31.17 458.25 25.25 459.50 21.00 C460.75 16.75 462.42 11.42 463.00 9.50M509.90 44.50 C510.42 42.58 511.98 37.08 513.00 33.00 C514.02 28.92 515.08 23.92 516.00 20.00 C516.92 16.08 518.08 11.25 518.50 9.50M508.50 44.00 C509.00 41.92 510.67 35.50 511.50 31.50 C512.33 27.50 512.83 23.67 513.50 20.00 C514.17 16.33 515.17 11.25 515.50 9.50M433.00 24.50 C434.03 24.62 437.40 24.45 439.20 25.20 C441.00 25.95 442.50 27.07 443.80 29.00 C445.10 30.93 445.72 34.10 447.00 36.80 C448.28 39.50 450.75 43.80 451.50 45.20M433.00 33.70 C434.03 33.18 437.40 31.88 439.20 30.60 C441.00 29.32 442.77 28.05 443.80 26.00 C444.83 23.95 445.28 21.05 445.40 18.30 C445.52 15.55 444.65 10.97 444.50 9.50M439.20 9.50 C439.97 11.22 442.25 15.52 443.80 19.80 C445.35 24.08 446.97 30.97 448.50 35.20 C450.03 39.43 452.25 43.53 453.00 45.20M433.00 17.00 C433.67 16.75 435.83 16.25 437.00 15.50 C438.17 14.75 439.33 13.50 440.00 12.50 C440.67 11.50 440.83 10.00 441.00 9.50M483.00 9.50 C483.25 10.75 483.97 14.25 484.50 17.00 C485.03 19.75 485.28 22.20 486.20 26.00 C487.12 29.80 488.60 36.97 490.00 39.80 C491.40 42.63 492.80 42.73 494.60 43.00 C496.40 43.27 498.73 42.07 500.80 41.40 C502.87 40.73 505.22 40.03 507.00 39.00 C508.78 37.97 509.97 36.87 511.50 35.20 C513.03 33.53 514.40 30.78 516.20 29.00 C518.00 27.22 520.25 25.50 522.30 24.50 C524.35 23.50 527.47 23.25 528.50 23.00M484.60 9.50 C484.92 10.42 485.85 13.02 486.50 15.00 C487.15 16.98 487.42 19.18 488.50 21.40 C489.58 23.62 491.47 27.03 493.00 28.30 C494.53 29.57 496.15 28.22 497.70 29.00 C499.25 29.78 500.75 30.93 502.30 33.00 C503.85 35.07 505.97 39.37 507.00 41.40 C508.03 43.43 508.25 44.57 508.50 45.20M503.80 9.50 C504.33 9.88 505.97 11.22 507.00 11.80 C508.03 12.38 508.92 13.00 510.00 13.00 C511.08 13.00 512.47 12.38 513.50 11.80 C514.53 11.22 515.75 9.88 516.20 9.50M520.80 9.50 C521.05 11.48 521.60 18.32 522.30 21.40 C523.00 24.48 523.97 25.95 525.00 28.00 C526.03 30.05 527.92 32.75 528.50 33.70M528.50 26.00 C527.75 26.25 525.58 26.50 524.00 27.50 C522.42 28.50 520.30 30.33 519.00 32.00 C517.70 33.67 517.20 35.33 516.20 37.50 C515.20 39.67 513.53 43.75 513.00 45.00M528.50 17.00 C527.92 16.75 525.92 16.25 525.00 15.50 C524.08 14.75 523.45 13.50 523.00 12.50 C522.55 11.50 522.42 10.00 522.30 9.50M433.30 10.55 C437.75 10.54 448.88 10.51 460.00 10.50 C471.12 10.49 488.57 10.49 500.00 10.50 C511.43 10.51 523.83 10.54 528.60 10.55" class="br"/>
<path d="M433.00 202.50 C433.92 202.25 436.70 202.03 438.50 201.00 C440.30 199.97 442.30 198.22 443.80 196.30 C445.30 194.38 446.50 192.88 447.50 189.50 C448.50 186.12 448.47 180.67 449.80 176.00 C451.13 171.33 453.80 165.63 455.50 161.50 C457.20 157.37 458.17 155.45 460.00 151.20 C461.83 146.95 464.33 141.02 466.50 136.00 C468.67 130.98 471.92 123.58 473.00 121.10M473.00 121.10 C473.78 122.42 476.15 126.55 477.70 129.00 C479.25 131.45 480.50 133.88 482.30 135.80 C484.10 137.72 486.58 139.55 488.50 140.50 C490.42 141.45 492.38 140.87 493.80 141.50 C495.22 142.13 495.83 142.68 497.00 144.30 C498.17 145.92 499.72 148.83 500.80 151.20 C501.88 153.57 502.05 154.53 503.50 158.50 C504.95 162.47 507.92 170.25 509.50 175.00 C511.08 179.75 511.63 183.45 513.00 187.00 C514.37 190.55 516.15 194.13 517.70 196.30 C519.25 198.47 520.50 198.97 522.30 200.00 C524.10 201.03 527.47 202.08 528.50 202.50M433.00 190.20 C433.78 190.07 436.15 189.93 437.70 189.40 C439.25 188.87 440.75 187.98 442.30 187.00 C443.85 186.02 445.72 185.00 447.00 183.50 C448.28 182.00 448.67 180.92 450.00 178.00 C451.33 175.08 453.25 170.00 455.00 166.00 C456.75 162.00 458.90 157.25 460.50 154.00 C462.10 150.75 463.27 148.88 464.60 146.50 C465.93 144.12 467.10 141.53 468.50 139.70 C469.90 137.87 471.47 135.88 473.00 135.50 C474.53 135.12 475.90 136.18 477.70 137.40 C479.50 138.62 481.75 141.08 483.80 142.80 C485.85 144.52 488.20 146.67 490.00 147.70 C491.80 148.73 493.32 148.08 494.60 149.00 C495.88 149.92 496.42 150.70 497.70 153.20 C498.98 155.70 500.75 160.40 502.30 164.00 C503.85 167.60 505.72 171.60 507.00 174.80 C508.28 178.00 508.50 181.30 510.00 183.20 C511.50 185.10 513.95 185.30 516.00 186.20 C518.05 187.10 520.22 187.93 522.30 188.60 C524.38 189.27 527.47 189.93 528.50 190.20M433.00 150.20 C433.50 150.50 434.97 151.12 436.00 152.00 C437.03 152.88 437.90 153.33 439.20 155.50 C440.50 157.67 442.38 161.58 443.80 165.00 C445.22 168.42 446.67 172.83 447.70 176.00 C448.73 179.17 448.85 180.10 450.00 184.00 C451.15 187.90 452.80 193.77 454.60 199.40 C456.40 205.03 459.40 213.87 460.80 217.80 C462.20 221.73 462.63 222.13 463.00 223.00M433.00 150.20 C433.42 150.43 434.72 150.97 435.50 151.60 C436.28 152.23 436.57 151.77 437.70 154.00 C438.83 156.23 440.88 161.17 442.30 165.00 C443.72 168.83 445.30 173.83 446.20 177.00 C447.10 180.17 446.90 180.83 447.70 184.00 C448.50 187.17 449.62 191.33 451.00 196.00 C452.38 200.67 454.50 207.50 456.00 212.00 C457.50 216.50 459.33 221.17 460.00 223.00M433.00 153.50 C433.67 154.00 435.58 154.83 437.00 156.50 C438.42 158.17 439.97 160.67 441.50 163.50 C443.03 166.33 444.53 170.08 446.20 173.50 C447.87 176.92 449.70 179.68 451.50 184.00 C453.30 188.32 455.08 194.02 457.00 199.40 C458.92 204.78 461.47 212.58 463.00 216.30 C464.53 220.02 464.78 220.63 466.20 221.70 C467.62 222.77 470.62 222.53 471.50 222.70M433.00 153.50 C433.75 154.17 435.83 155.42 437.50 157.50 C439.17 159.58 441.08 162.92 443.00 166.00 C444.92 169.08 446.80 172.33 449.00 176.00 C451.20 179.67 454.23 184.63 456.20 188.00 C458.17 191.37 459.00 192.95 460.80 196.20 C462.60 199.45 465.22 204.83 467.00 207.50 C468.78 210.17 470.37 211.33 471.50 212.20 C472.63 213.07 472.77 213.30 473.80 212.70 C474.83 212.10 476.28 211.08 477.70 208.60 C479.12 206.12 480.75 201.40 482.30 197.80 C483.85 194.20 485.97 189.30 487.00 187.00 C488.03 184.70 487.83 184.92 488.50 184.00 C489.17 183.08 489.72 182.13 491.00 181.50 C492.28 180.87 494.32 180.95 496.20 180.20 C498.08 179.45 500.25 178.53 502.30 177.00 C504.35 175.47 506.18 173.83 508.50 171.00 C510.82 168.17 513.90 162.92 516.20 160.00 C518.50 157.08 520.25 155.13 522.30 153.50 C524.35 151.87 527.47 150.75 528.50 150.20M477.70 223.00 C478.47 220.83 480.75 214.20 482.30 210.00 C483.85 205.80 485.47 201.10 487.00 197.80 C488.53 194.50 490.23 191.73 491.50 190.20 C492.77 188.67 493.32 189.13 494.60 188.60 C495.88 188.07 497.67 187.77 499.20 187.00 C500.73 186.23 502.00 185.75 503.80 184.00 C505.60 182.25 507.93 179.50 510.00 176.50 C512.07 173.50 514.15 169.25 516.20 166.00 C518.25 162.75 520.25 159.08 522.30 157.00 C524.35 154.92 527.47 154.08 528.50 153.50M497.70 223.00 C498.47 221.37 500.75 216.87 502.30 213.20 C503.85 209.53 505.47 205.10 507.00 201.00 C508.53 196.90 510.50 191.43 511.50 188.60 C512.50 185.77 512.22 186.52 513.00 184.00 C513.78 181.48 515.03 177.00 516.20 173.50 C517.37 170.00 518.60 166.17 520.00 163.00 C521.40 159.83 523.18 156.63 524.60 154.50 C526.02 152.37 527.85 150.92 528.50 150.20M505.40 223.00 C506.17 219.58 508.60 209.00 510.00 202.50 C511.40 196.00 512.72 189.08 513.80 184.00 C514.88 178.92 515.38 175.92 516.50 172.00 C517.62 168.08 519.08 163.75 520.50 160.50 C521.92 157.25 523.67 154.22 525.00 152.50 C526.33 150.78 527.92 150.58 528.50 150.20" class="bb"/>
</g>
<rect x="433.30" y="9.50" width="95.30" height="213.70" class="frame"/>
<text x="427.90" y="14.10" class="tk" text-anchor="end">10</text>
<text x="427.90" y="67.52" class="tk" text-anchor="end">5</text>
<text x="427.90" y="120.95" class="tk" text-anchor="end">0</text>
<text x="427.90" y="174.38" class="tk" text-anchor="end">-5</text>
<text x="427.90" y="227.80" class="tk" text-anchor="end">-10</text>
<text x="433.00" y="237.40" class="tk" text-anchor="middle">Γ</text>
<text x="472.97" y="237.40" class="tki" text-anchor="middle">K</text>
<text x="493.32" y="237.40" class="tki" text-anchor="middle">M</text>
<text x="528.30" y="237.40" class="tk" text-anchor="middle">Γ</text>
<text x="480.35" y="256.60" class="axi" text-anchor="middle">k</text>
<text transform="translate(396.70 116.15) rotate(-90)" class="ax" text-anchor="middle" textLength="126" lengthAdjust="spacingAndGlyphs">Electron energy (eV)</text>
<text x="362.30" y="10.30" class="pl">(c)</text>
<text x="542.4" y="10.3" class="pl">(d)</text>
<clipPath id="cpd1"><rect x="567.80" y="5.50" width="118.25" height="117.60"/></clipPath>
<g clip-path="url(#cpd1)">
<line x1="561.98" y1="19.63" x2="561.98" y2="56.87" stroke="#333" stroke-width="5.4"/>
<line x1="561.98" y1="19.63" x2="529.39" y2="1.11" stroke="#333" stroke-width="5.4"/>
<line x1="561.98" y1="19.63" x2="594.56" y2="1.11" stroke="#333" stroke-width="5.4"/>
<line x1="594.56" y1="-36.13" x2="594.56" y2="1.11" stroke="#333" stroke-width="5.4"/>
<line x1="594.56" y1="-36.13" x2="561.98" y2="-54.65" stroke="#333" stroke-width="5.4"/>
<line x1="594.56" y1="-36.13" x2="627.15" y2="-54.65" stroke="#333" stroke-width="5.4"/>
<line x1="561.98" y1="131.15" x2="561.98" y2="168.39" stroke="#333" stroke-width="5.4"/>
<line x1="561.98" y1="131.15" x2="529.39" y2="112.63" stroke="#333" stroke-width="5.4"/>
<line x1="561.98" y1="131.15" x2="594.56" y2="112.63" stroke="#333" stroke-width="5.4"/>
<line x1="594.56" y1="75.39" x2="594.56" y2="112.63" stroke="#333" stroke-width="5.4"/>
<line x1="594.56" y1="75.39" x2="561.98" y2="56.87" stroke="#333" stroke-width="5.4"/>
<line x1="594.56" y1="75.39" x2="627.15" y2="56.87" stroke="#333" stroke-width="5.4"/>
<line x1="627.15" y1="19.63" x2="627.15" y2="56.87" stroke="#333" stroke-width="5.4"/>
<line x1="627.15" y1="19.63" x2="594.56" y2="1.11" stroke="#333" stroke-width="5.4"/>
<line x1="627.15" y1="19.63" x2="659.73" y2="1.11" stroke="#333" stroke-width="5.4"/>
<line x1="659.73" y1="-36.13" x2="659.73" y2="1.11" stroke="#333" stroke-width="5.4"/>
<line x1="659.73" y1="-36.13" x2="627.15" y2="-54.65" stroke="#333" stroke-width="5.4"/>
<line x1="659.73" y1="-36.13" x2="692.32" y2="-54.65" stroke="#333" stroke-width="5.4"/>
<line x1="627.15" y1="131.15" x2="627.15" y2="168.39" stroke="#333" stroke-width="5.4"/>
<line x1="627.15" y1="131.15" x2="594.56" y2="112.63" stroke="#333" stroke-width="5.4"/>
<line x1="627.15" y1="131.15" x2="659.73" y2="112.63" stroke="#333" stroke-width="5.4"/>
<line x1="659.73" y1="75.39" x2="659.73" y2="112.63" stroke="#333" stroke-width="5.4"/>
<line x1="659.73" y1="75.39" x2="627.15" y2="56.87" stroke="#333" stroke-width="5.4"/>
<line x1="659.73" y1="75.39" x2="692.32" y2="56.87" stroke="#333" stroke-width="5.4"/>
<line x1="692.32" y1="19.63" x2="692.32" y2="56.87" stroke="#333" stroke-width="5.4"/>
<line x1="692.32" y1="19.63" x2="659.73" y2="1.11" stroke="#333" stroke-width="5.4"/>
<line x1="692.32" y1="19.63" x2="724.90" y2="1.11" stroke="#333" stroke-width="5.4"/>
<line x1="724.90" y1="-36.13" x2="724.90" y2="1.11" stroke="#333" stroke-width="5.4"/>
<line x1="724.90" y1="-36.13" x2="692.32" y2="-54.65" stroke="#333" stroke-width="5.4"/>
<line x1="724.90" y1="-36.13" x2="757.49" y2="-54.65" stroke="#333" stroke-width="5.4"/>
<line x1="692.32" y1="131.15" x2="692.32" y2="168.39" stroke="#333" stroke-width="5.4"/>
<line x1="692.32" y1="131.15" x2="659.73" y2="112.63" stroke="#333" stroke-width="5.4"/>
<line x1="692.32" y1="131.15" x2="724.90" y2="112.63" stroke="#333" stroke-width="5.4"/>
<line x1="724.90" y1="75.39" x2="724.90" y2="112.63" stroke="#333" stroke-width="5.4"/>
<line x1="724.90" y1="75.39" x2="692.32" y2="56.87" stroke="#333" stroke-width="5.4"/>
<line x1="724.90" y1="75.39" x2="757.49" y2="56.87" stroke="#333" stroke-width="5.4"/>
<circle cx="561.98" cy="55.67" r="9.4" fill="url(#gC)"/>
<circle cx="594.56" cy="-0.09" r="9.4" fill="url(#gC)"/>
<circle cx="561.98" cy="167.19" r="9.4" fill="url(#gC)"/>
<circle cx="594.56" cy="111.43" r="9.4" fill="url(#gC)"/>
<circle cx="627.15" cy="55.67" r="9.4" fill="url(#gC)"/>
<circle cx="659.73" cy="-0.09" r="9.4" fill="url(#gC)"/>
<circle cx="627.15" cy="167.19" r="9.4" fill="url(#gC)"/>
<circle cx="659.73" cy="111.43" r="9.4" fill="url(#gC)"/>
<circle cx="692.32" cy="55.67" r="9.4" fill="url(#gC)"/>
<circle cx="724.90" cy="-0.09" r="9.4" fill="url(#gC)"/>
<circle cx="692.32" cy="167.19" r="9.4" fill="url(#gC)"/>
<circle cx="724.90" cy="111.43" r="9.4" fill="url(#gC)"/>
<line x1="560.65" y1="17.50" x2="560.65" y2="37.64" stroke="#f2b6b6" stroke-width="5.6"/>
<line x1="560.65" y1="17.50" x2="560.65" y2="37.64" stroke="#fdeaea" stroke-width="2.0"/>
<line x1="560.65" y1="37.64" x2="560.65" y2="55.50" stroke="#2850e6" stroke-width="5.6"/>
<line x1="560.65" y1="37.64" x2="560.65" y2="55.50" stroke="#3c6cf6" stroke-width="2.0"/>
<line x1="560.65" y1="17.50" x2="543.03" y2="7.48" stroke="#f2b6b6" stroke-width="5.6"/>
<line x1="560.65" y1="17.50" x2="543.03" y2="7.48" stroke="#fdeaea" stroke-width="2.0"/>
<line x1="543.03" y1="7.48" x2="527.40" y2="-1.40" stroke="#2850e6" stroke-width="5.6"/>
<line x1="543.03" y1="7.48" x2="527.40" y2="-1.40" stroke="#3c6cf6" stroke-width="2.0"/>
<line x1="560.65" y1="17.50" x2="578.27" y2="7.48" stroke="#f2b6b6" stroke-width="5.6"/>
<line x1="560.65" y1="17.50" x2="578.27" y2="7.48" stroke="#fdeaea" stroke-width="2.0"/>
<line x1="578.27" y1="7.48" x2="593.90" y2="-1.40" stroke="#2850e6" stroke-width="5.6"/>
<line x1="578.27" y1="7.48" x2="593.90" y2="-1.40" stroke="#3c6cf6" stroke-width="2.0"/>
<line x1="593.90" y1="-39.40" x2="593.90" y2="-19.26" stroke="#f2b6b6" stroke-width="5.6"/>
<line x1="593.90" y1="-39.40" x2="593.90" y2="-19.26" stroke="#fdeaea" stroke-width="2.0"/>
<line x1="593.90" y1="-19.26" x2="593.90" y2="-1.40" stroke="#2850e6" stroke-width="5.6"/>
<line x1="593.90" y1="-19.26" x2="593.90" y2="-1.40" stroke="#3c6cf6" stroke-width="2.0"/>
<line x1="593.90" y1="-39.40" x2="576.28" y2="-49.42" stroke="#f2b6b6" stroke-width="5.6"/>
<line x1="593.90" y1="-39.40" x2="576.28" y2="-49.42" stroke="#fdeaea" stroke-width="2.0"/>
<line x1="576.28" y1="-49.42" x2="560.65" y2="-58.30" stroke="#2850e6" stroke-width="5.6"/>
<line x1="576.28" y1="-49.42" x2="560.65" y2="-58.30" stroke="#3c6cf6" stroke-width="2.0"/>
<line x1="593.90" y1="-39.40" x2="611.52" y2="-49.42" stroke="#f2b6b6" stroke-width="5.6"/>
<line x1="593.90" y1="-39.40" x2="611.52" y2="-49.42" stroke="#fdeaea" stroke-width="2.0"/>
<line x1="611.52" y1="-49.42" x2="627.15" y2="-58.30" stroke="#2850e6" stroke-width="5.6"/>
<line x1="611.52" y1="-49.42" x2="627.15" y2="-58.30" stroke="#3c6cf6" stroke-width="2.0"/>
<line x1="560.65" y1="131.30" x2="560.65" y2="151.44" stroke="#f2b6b6" stroke-width="5.6"/>
<line x1="560.65" y1="131.30" x2="560.65" y2="151.44" stroke="#fdeaea" stroke-width="2.0"/>
<line x1="560.65" y1="151.44" x2="560.65" y2="169.30" stroke="#2850e6" stroke-width="5.6"/>
<line x1="560.65" y1="151.44" x2="560.65" y2="169.30" stroke="#3c6cf6" stroke-width="2.0"/>
<line x1="560.65" y1="131.30" x2="543.03" y2="121.28" stroke="#f2b6b6" stroke-width="5.6"/>
<line x1="560.65" y1="131.30" x2="543.03" y2="121.28" stroke="#fdeaea" stroke-width="2.0"/>
<line x1="543.03" y1="121.28" x2="527.40" y2="112.40" stroke="#2850e6" stroke-width="5.6"/>
<line x1="543.03" y1="121.28" x2="527.40" y2="112.40" stroke="#3c6cf6" stroke-width="2.0"/>
<line x1="560.65" y1="131.30" x2="578.27" y2="121.28" stroke="#f2b6b6" stroke-width="5.6"/>
<line x1="560.65" y1="131.30" x2="578.27" y2="121.28" stroke="#fdeaea" stroke-width="2.0"/>
<line x1="578.27" y1="121.28" x2="593.90" y2="112.40" stroke="#2850e6" stroke-width="5.6"/>
<line x1="578.27" y1="121.28" x2="593.90" y2="112.40" stroke="#3c6cf6" stroke-width="2.0"/>
<line x1="593.90" y1="74.40" x2="593.90" y2="94.54" stroke="#f2b6b6" stroke-width="5.6"/>
<line x1="593.90" y1="74.40" x2="593.90" y2="94.54" stroke="#fdeaea" stroke-width="2.0"/>
<line x1="593.90" y1="94.54" x2="593.90" y2="112.40" stroke="#2850e6" stroke-width="5.6"/>
<line x1="593.90" y1="94.54" x2="593.90" y2="112.40" stroke="#3c6cf6" stroke-width="2.0"/>
<line x1="593.90" y1="74.40" x2="576.28" y2="64.38" stroke="#f2b6b6" stroke-width="5.6"/>
<line x1="593.90" y1="74.40" x2="576.28" y2="64.38" stroke="#fdeaea" stroke-width="2.0"/>
<line x1="576.28" y1="64.38" x2="560.65" y2="55.50" stroke="#2850e6" stroke-width="5.6"/>
<line x1="576.28" y1="64.38" x2="560.65" y2="55.50" stroke="#3c6cf6" stroke-width="2.0"/>
<line x1="593.90" y1="74.40" x2="611.52" y2="64.38" stroke="#f2b6b6" stroke-width="5.6"/>
<line x1="593.90" y1="74.40" x2="611.52" y2="64.38" stroke="#fdeaea" stroke-width="2.0"/>
<line x1="611.52" y1="64.38" x2="627.15" y2="55.50" stroke="#2850e6" stroke-width="5.6"/>
<line x1="611.52" y1="64.38" x2="627.15" y2="55.50" stroke="#3c6cf6" stroke-width="2.0"/>
<line x1="627.15" y1="17.50" x2="627.15" y2="37.64" stroke="#f2b6b6" stroke-width="5.6"/>
<line x1="627.15" y1="17.50" x2="627.15" y2="37.64" stroke="#fdeaea" stroke-width="2.0"/>
<line x1="627.15" y1="37.64" x2="627.15" y2="55.50" stroke="#2850e6" stroke-width="5.6"/>
<line x1="627.15" y1="37.64" x2="627.15" y2="55.50" stroke="#3c6cf6" stroke-width="2.0"/>
<line x1="627.15" y1="17.50" x2="609.53" y2="7.48" stroke="#f2b6b6" stroke-width="5.6"/>
<line x1="627.15" y1="17.50" x2="609.53" y2="7.48" stroke="#fdeaea" stroke-width="2.0"/>
<line x1="609.53" y1="7.48" x2="593.90" y2="-1.40" stroke="#2850e6" stroke-width="5.6"/>
<line x1="609.53" y1="7.48" x2="593.90" y2="-1.40" stroke="#3c6cf6" stroke-width="2.0"/>
<line x1="627.15" y1="17.50" x2="644.77" y2="7.48" stroke="#f2b6b6" stroke-width="5.6"/>
<line x1="627.15" y1="17.50" x2="644.77" y2="7.48" stroke="#fdeaea" stroke-width="2.0"/>
<line x1="644.77" y1="7.48" x2="660.40" y2="-1.40" stroke="#2850e6" stroke-width="5.6"/>
<line x1="644.77" y1="7.48" x2="660.40" y2="-1.40" stroke="#3c6cf6" stroke-width="2.0"/>
<line x1="660.40" y1="-39.40" x2="660.40" y2="-19.26" stroke="#f2b6b6" stroke-width="5.6"/>
<line x1="660.40" y1="-39.40" x2="660.40" y2="-19.26" stroke="#fdeaea" stroke-width="2.0"/>
<line x1="660.40" y1="-19.26" x2="660.40" y2="-1.40" stroke="#2850e6" stroke-width="5.6"/>
<line x1="660.40" y1="-19.26" x2="660.40" y2="-1.40" stroke="#3c6cf6" stroke-width="2.0"/>
<line x1="660.40" y1="-39.40" x2="642.78" y2="-49.42" stroke="#f2b6b6" stroke-width="5.6"/>
<line x1="660.40" y1="-39.40" x2="642.78" y2="-49.42" stroke="#fdeaea" stroke-width="2.0"/>
<line x1="642.78" y1="-49.42" x2="627.15" y2="-58.30" stroke="#2850e6" stroke-width="5.6"/>
<line x1="642.78" y1="-49.42" x2="627.15" y2="-58.30" stroke="#3c6cf6" stroke-width="2.0"/>
<line x1="660.40" y1="-39.40" x2="678.02" y2="-49.42" stroke="#f2b6b6" stroke-width="5.6"/>
<line x1="660.40" y1="-39.40" x2="678.02" y2="-49.42" stroke="#fdeaea" stroke-width="2.0"/>
<line x1="678.02" y1="-49.42" x2="693.65" y2="-58.30" stroke="#2850e6" stroke-width="5.6"/>
<line x1="678.02" y1="-49.42" x2="693.65" y2="-58.30" stroke="#3c6cf6" stroke-width="2.0"/>
<line x1="627.15" y1="131.30" x2="627.15" y2="151.44" stroke="#f2b6b6" stroke-width="5.6"/>
<line x1="627.15" y1="131.30" x2="627.15" y2="151.44" stroke="#fdeaea" stroke-width="2.0"/>
<line x1="627.15" y1="151.44" x2="627.15" y2="169.30" stroke="#2850e6" stroke-width="5.6"/>
<line x1="627.15" y1="151.44" x2="627.15" y2="169.30" stroke="#3c6cf6" stroke-width="2.0"/>
<line x1="627.15" y1="131.30" x2="609.53" y2="121.28" stroke="#f2b6b6" stroke-width="5.6"/>
<line x1="627.15" y1="131.30" x2="609.53" y2="121.28" stroke="#fdeaea" stroke-width="2.0"/>
<line x1="609.53" y1="121.28" x2="593.90" y2="112.40" stroke="#2850e6" stroke-width="5.6"/>
<line x1="609.53" y1="121.28" x2="593.90" y2="112.40" stroke="#3c6cf6" stroke-width="2.0"/>
<line x1="627.15" y1="131.30" x2="644.77" y2="121.28" stroke="#f2b6b6" stroke-width="5.6"/>
<line x1="627.15" y1="131.30" x2="644.77" y2="121.28" stroke="#fdeaea" stroke-width="2.0"/>
<line x1="644.77" y1="121.28" x2="660.40" y2="112.40" stroke="#2850e6" stroke-width="5.6"/>
<line x1="644.77" y1="121.28" x2="660.40" y2="112.40" stroke="#3c6cf6" stroke-width="2.0"/>
<line x1="660.40" y1="74.40" x2="660.40" y2="94.54" stroke="#f2b6b6" stroke-width="5.6"/>
<line x1="660.40" y1="74.40" x2="660.40" y2="94.54" stroke="#fdeaea" stroke-width="2.0"/>
<line x1="660.40" y1="94.54" x2="660.40" y2="112.40" stroke="#2850e6" stroke-width="5.6"/>
<line x1="660.40" y1="94.54" x2="660.40" y2="112.40" stroke="#3c6cf6" stroke-width="2.0"/>
<line x1="660.40" y1="74.40" x2="642.78" y2="64.38" stroke="#f2b6b6" stroke-width="5.6"/>
<line x1="660.40" y1="74.40" x2="642.78" y2="64.38" stroke="#fdeaea" stroke-width="2.0"/>
<line x1="642.78" y1="64.38" x2="627.15" y2="55.50" stroke="#2850e6" stroke-width="5.6"/>
<line x1="642.78" y1="64.38" x2="627.15" y2="55.50" stroke="#3c6cf6" stroke-width="2.0"/>
<line x1="660.40" y1="74.40" x2="678.02" y2="64.38" stroke="#f2b6b6" stroke-width="5.6"/>
<line x1="660.40" y1="74.40" x2="678.02" y2="64.38" stroke="#fdeaea" stroke-width="2.0"/>
<line x1="678.02" y1="64.38" x2="693.65" y2="55.50" stroke="#2850e6" stroke-width="5.6"/>
<line x1="678.02" y1="64.38" x2="693.65" y2="55.50" stroke="#3c6cf6" stroke-width="2.0"/>
<line x1="693.65" y1="17.50" x2="693.65" y2="37.64" stroke="#f2b6b6" stroke-width="5.6"/>
<line x1="693.65" y1="17.50" x2="693.65" y2="37.64" stroke="#fdeaea" stroke-width="2.0"/>
<line x1="693.65" y1="37.64" x2="693.65" y2="55.50" stroke="#2850e6" stroke-width="5.6"/>
<line x1="693.65" y1="37.64" x2="693.65" y2="55.50" stroke="#3c6cf6" stroke-width="2.0"/>
<line x1="693.65" y1="17.50" x2="676.03" y2="7.48" stroke="#f2b6b6" stroke-width="5.6"/>
<line x1="693.65" y1="17.50" x2="676.03" y2="7.48" stroke="#fdeaea" stroke-width="2.0"/>
<line x1="676.03" y1="7.48" x2="660.40" y2="-1.40" stroke="#2850e6" stroke-width="5.6"/>
<line x1="676.03" y1="7.48" x2="660.40" y2="-1.40" stroke="#3c6cf6" stroke-width="2.0"/>
<line x1="693.65" y1="17.50" x2="711.27" y2="7.48" stroke="#f2b6b6" stroke-width="5.6"/>
<line x1="693.65" y1="17.50" x2="711.27" y2="7.48" stroke="#fdeaea" stroke-width="2.0"/>
<line x1="711.27" y1="7.48" x2="726.90" y2="-1.40" stroke="#2850e6" stroke-width="5.6"/>
<line x1="711.27" y1="7.48" x2="726.90" y2="-1.40" stroke="#3c6cf6" stroke-width="2.0"/>
<line x1="726.90" y1="-39.40" x2="726.90" y2="-19.26" stroke="#f2b6b6" stroke-width="5.6"/>
<line x1="726.90" y1="-39.40" x2="726.90" y2="-19.26" stroke="#fdeaea" stroke-width="2.0"/>
<line x1="726.90" y1="-19.26" x2="726.90" y2="-1.40" stroke="#2850e6" stroke-width="5.6"/>
<line x1="726.90" y1="-19.26" x2="726.90" y2="-1.40" stroke="#3c6cf6" stroke-width="2.0"/>
<line x1="726.90" y1="-39.40" x2="709.28" y2="-49.42" stroke="#f2b6b6" stroke-width="5.6"/>
<line x1="726.90" y1="-39.40" x2="709.28" y2="-49.42" stroke="#fdeaea" stroke-width="2.0"/>
<line x1="709.28" y1="-49.42" x2="693.65" y2="-58.30" stroke="#2850e6" stroke-width="5.6"/>
<line x1="709.28" y1="-49.42" x2="693.65" y2="-58.30" stroke="#3c6cf6" stroke-width="2.0"/>
<line x1="726.90" y1="-39.40" x2="744.52" y2="-49.42" stroke="#f2b6b6" stroke-width="5.6"/>
<line x1="726.90" y1="-39.40" x2="744.52" y2="-49.42" stroke="#fdeaea" stroke-width="2.0"/>
<line x1="744.52" y1="-49.42" x2="760.15" y2="-58.30" stroke="#2850e6" stroke-width="5.6"/>
<line x1="744.52" y1="-49.42" x2="760.15" y2="-58.30" stroke="#3c6cf6" stroke-width="2.0"/>
<line x1="693.65" y1="131.30" x2="693.65" y2="151.44" stroke="#f2b6b6" stroke-width="5.6"/>
<line x1="693.65" y1="131.30" x2="693.65" y2="151.44" stroke="#fdeaea" stroke-width="2.0"/>
<line x1="693.65" y1="151.44" x2="693.65" y2="169.30" stroke="#2850e6" stroke-width="5.6"/>
<line x1="693.65" y1="151.44" x2="693.65" y2="169.30" stroke="#3c6cf6" stroke-width="2.0"/>
<line x1="693.65" y1="131.30" x2="676.03" y2="121.28" stroke="#f2b6b6" stroke-width="5.6"/>
<line x1="693.65" y1="131.30" x2="676.03" y2="121.28" stroke="#fdeaea" stroke-width="2.0"/>
<line x1="676.03" y1="121.28" x2="660.40" y2="112.40" stroke="#2850e6" stroke-width="5.6"/>
<line x1="676.03" y1="121.28" x2="660.40" y2="112.40" stroke="#3c6cf6" stroke-width="2.0"/>
<line x1="693.65" y1="131.30" x2="711.27" y2="121.28" stroke="#f2b6b6" stroke-width="5.6"/>
<line x1="693.65" y1="131.30" x2="711.27" y2="121.28" stroke="#fdeaea" stroke-width="2.0"/>
<line x1="711.27" y1="121.28" x2="726.90" y2="112.40" stroke="#2850e6" stroke-width="5.6"/>
<line x1="711.27" y1="121.28" x2="726.90" y2="112.40" stroke="#3c6cf6" stroke-width="2.0"/>
<line x1="726.90" y1="74.40" x2="726.90" y2="94.54" stroke="#f2b6b6" stroke-width="5.6"/>
<line x1="726.90" y1="74.40" x2="726.90" y2="94.54" stroke="#fdeaea" stroke-width="2.0"/>
<line x1="726.90" y1="94.54" x2="726.90" y2="112.40" stroke="#2850e6" stroke-width="5.6"/>
<line x1="726.90" y1="94.54" x2="726.90" y2="112.40" stroke="#3c6cf6" stroke-width="2.0"/>
<line x1="726.90" y1="74.40" x2="709.28" y2="64.38" stroke="#f2b6b6" stroke-width="5.6"/>
<line x1="726.90" y1="74.40" x2="709.28" y2="64.38" stroke="#fdeaea" stroke-width="2.0"/>
<line x1="709.28" y1="64.38" x2="693.65" y2="55.50" stroke="#2850e6" stroke-width="5.6"/>
<line x1="709.28" y1="64.38" x2="693.65" y2="55.50" stroke="#3c6cf6" stroke-width="2.0"/>
<line x1="726.90" y1="74.40" x2="744.52" y2="64.38" stroke="#f2b6b6" stroke-width="5.6"/>
<line x1="726.90" y1="74.40" x2="744.52" y2="64.38" stroke="#fdeaea" stroke-width="2.0"/>
<line x1="744.52" y1="64.38" x2="760.15" y2="55.50" stroke="#2850e6" stroke-width="5.6"/>
<line x1="744.52" y1="64.38" x2="760.15" y2="55.50" stroke="#3c6cf6" stroke-width="2.0"/>
<circle cx="560.65" cy="55.50" r="7.9" fill="url(#gN)"/>
<circle cx="593.90" cy="-1.40" r="7.9" fill="url(#gN)"/>
<circle cx="560.65" cy="169.30" r="7.9" fill="url(#gN)"/>
<circle cx="593.90" cy="112.40" r="7.9" fill="url(#gN)"/>
<circle cx="627.15" cy="55.50" r="7.9" fill="url(#gN)"/>
<circle cx="660.40" cy="-1.40" r="7.9" fill="url(#gN)"/>
<circle cx="627.15" cy="169.30" r="7.9" fill="url(#gN)"/>
<circle cx="660.40" cy="112.40" r="7.9" fill="url(#gN)"/>
<circle cx="693.65" cy="55.50" r="7.9" fill="url(#gN)"/>
<circle cx="726.90" cy="-1.40" r="7.9" fill="url(#gN)"/>
<circle cx="693.65" cy="169.30" r="7.9" fill="url(#gN)"/>
<circle cx="726.90" cy="112.40" r="7.9" fill="url(#gN)"/>
<circle cx="560.65" cy="17.50" r="11.7" fill="url(#gB)"/>
<circle cx="593.90" cy="-39.40" r="11.7" fill="url(#gB)"/>
<circle cx="560.65" cy="131.30" r="11.7" fill="url(#gB)"/>
<circle cx="593.90" cy="74.40" r="11.7" fill="url(#gB)"/>
<circle cx="627.15" cy="17.50" r="11.7" fill="url(#gB)"/>
<circle cx="660.40" cy="-39.40" r="11.7" fill="url(#gB)"/>
<circle cx="627.15" cy="131.30" r="11.7" fill="url(#gB)"/>
<circle cx="660.40" cy="74.40" r="11.7" fill="url(#gB)"/>
<circle cx="693.65" cy="17.50" r="11.7" fill="url(#gB)"/>
<circle cx="726.90" cy="-39.40" r="11.7" fill="url(#gB)"/>
<circle cx="693.65" cy="131.30" r="11.7" fill="url(#gB)"/>
<circle cx="726.90" cy="74.40" r="11.7" fill="url(#gB)"/>
</g>
<path d="M605.6 75.8H652" class="dash"/>
<path d="M599.0 68.4L623.6 23.9" class="dash"/>
<path transform="translate(658.40 75.80) rotate(0.0)" d="M-6.0 -5.8 C-4.9 -2.5 -2.3 -0.6 0 0 C-2.3 0.6 -4.9 2.5 -6.0 5.8" fill="none" stroke="#000" stroke-width="1.85" stroke-linecap="round" stroke-linejoin="round"/>
<path transform="translate(596.00 75.80) rotate(180.0)" d="M-6.0 -5.8 C-4.9 -2.5 -2.3 -0.6 0 0 C-2.3 0.6 -4.9 2.5 -6.0 5.8" fill="none" stroke="#000" stroke-width="1.85" stroke-linecap="round" stroke-linejoin="round"/>
<path transform="translate(628.60 17.60) rotate(-61.0)" d="M-6.0 -5.8 C-4.9 -2.5 -2.3 -0.6 0 0 C-2.3 0.6 -4.9 2.5 -6.0 5.8" fill="none" stroke="#000" stroke-width="1.85" stroke-linecap="round" stroke-linejoin="round"/>
<path transform="translate(595.40 74.90) rotate(119.0)" d="M-6.0 -5.8 C-4.9 -2.5 -2.3 -0.6 0 0 C-2.3 0.6 -4.9 2.5 -6.0 5.8" fill="none" stroke="#000" stroke-width="1.85" stroke-linecap="round" stroke-linejoin="round"/>
<text x="627.0" y="92.0" class="bd" text-anchor="middle" textLength="42" lengthAdjust="spacingAndGlyphs">2.49 Å</text>
<text transform="translate(603.8 41.2) rotate(-61)" class="bd" text-anchor="middle" textLength="43.5" lengthAdjust="spacingAndGlyphs">2.49 Å</text>
<rect x="567.80" y="5.50" width="118.25" height="117.60" class="frame2"/>
<clipPath id="cpd2"><rect x="567.80" y="137.00" width="118.25" height="86.60"/></clipPath>
<g clip-path="url(#cpd2)">
<line x1="536.65" y1="164.85" x2="550.65" y2="164.85" stroke="#1f3cc0" stroke-width="1.5"/>
<circle cx="550.15" cy="164.75" r="3.3" fill="url(#gB2)"/>
<circle cx="544.25" cy="164.25" r="2.5" fill="#1f3cc4"/>
<line x1="557.90" y1="164.70" x2="571.90" y2="164.70" stroke="#1f3cc0" stroke-width="1.5"/>
<circle cx="571.40" cy="164.60" r="3.3" fill="url(#gB2)"/>
<circle cx="565.50" cy="164.10" r="2.5" fill="#1f3cc4"/>
<line x1="579.15" y1="164.55" x2="593.15" y2="164.55" stroke="#1f3cc0" stroke-width="1.5"/>
<circle cx="592.65" cy="164.45" r="3.3" fill="url(#gB2)"/>
<circle cx="586.75" cy="163.95" r="2.5" fill="#1f3cc4"/>
<line x1="600.40" y1="164.40" x2="614.40" y2="164.40" stroke="#1f3cc0" stroke-width="1.5"/>
<circle cx="613.90" cy="164.30" r="3.3" fill="url(#gB2)"/>
<circle cx="608.00" cy="163.80" r="2.5" fill="#1f3cc4"/>
<line x1="621.65" y1="164.25" x2="635.65" y2="164.25" stroke="#1f3cc0" stroke-width="1.5"/>
<circle cx="635.15" cy="164.15" r="3.3" fill="url(#gB2)"/>
<circle cx="629.25" cy="163.65" r="2.5" fill="#1f3cc4"/>
<line x1="642.90" y1="164.10" x2="656.90" y2="164.10" stroke="#1f3cc0" stroke-width="1.5"/>
<circle cx="656.40" cy="164.00" r="3.3" fill="url(#gB2)"/>
<circle cx="650.50" cy="163.50" r="2.5" fill="#1f3cc4"/>
<line x1="664.15" y1="163.96" x2="678.15" y2="163.96" stroke="#1f3cc0" stroke-width="1.5"/>
<circle cx="677.65" cy="163.86" r="3.3" fill="url(#gB2)"/>
<circle cx="671.75" cy="163.36" r="2.5" fill="#1f3cc4"/>
<line x1="685.40" y1="163.81" x2="699.40" y2="163.81" stroke="#1f3cc0" stroke-width="1.5"/>
<circle cx="698.90" cy="163.71" r="3.3" fill="url(#gB2)"/>
<circle cx="693.00" cy="163.21" r="2.5" fill="#1f3cc4"/>
<line x1="546.85" y1="161.65" x2="554.05" y2="161.75" stroke="#f0b4b4" stroke-width="1.7"/>
<line x1="554.05" y1="161.75" x2="561.35" y2="161.75" stroke="#2448e0" stroke-width="2.0"/>
<line x1="540.15" y1="161.65" x2="546.85" y2="161.65" stroke="#2448e0" stroke-width="2.0"/>
<line x1="568.10" y1="161.50" x2="575.30" y2="161.60" stroke="#f0b4b4" stroke-width="1.7"/>
<line x1="575.30" y1="161.60" x2="582.60" y2="161.60" stroke="#2448e0" stroke-width="2.0"/>
<line x1="561.40" y1="161.50" x2="568.10" y2="161.50" stroke="#2448e0" stroke-width="2.0"/>
<line x1="589.35" y1="161.35" x2="596.55" y2="161.45" stroke="#f0b4b4" stroke-width="1.7"/>
<line x1="596.55" y1="161.45" x2="603.85" y2="161.45" stroke="#2448e0" stroke-width="2.0"/>
<line x1="582.65" y1="161.35" x2="589.35" y2="161.35" stroke="#2448e0" stroke-width="2.0"/>
<line x1="610.60" y1="161.20" x2="617.80" y2="161.30" stroke="#f0b4b4" stroke-width="1.7"/>
<line x1="617.80" y1="161.30" x2="625.10" y2="161.30" stroke="#2448e0" stroke-width="2.0"/>
<line x1="603.90" y1="161.20" x2="610.60" y2="161.20" stroke="#2448e0" stroke-width="2.0"/>
<line x1="631.85" y1="161.05" x2="639.05" y2="161.15" stroke="#f0b4b4" stroke-width="1.7"/>
<line x1="639.05" y1="161.15" x2="646.35" y2="161.15" stroke="#2448e0" stroke-width="2.0"/>
<line x1="625.15" y1="161.05" x2="631.85" y2="161.05" stroke="#2448e0" stroke-width="2.0"/>
<line x1="653.10" y1="160.90" x2="660.30" y2="161.00" stroke="#f0b4b4" stroke-width="1.7"/>
<line x1="660.30" y1="161.00" x2="667.60" y2="161.00" stroke="#2448e0" stroke-width="2.0"/>
<line x1="646.40" y1="160.90" x2="653.10" y2="160.90" stroke="#2448e0" stroke-width="2.0"/>
<line x1="674.35" y1="160.76" x2="681.55" y2="160.86" stroke="#f0b4b4" stroke-width="1.7"/>
<line x1="681.55" y1="160.86" x2="688.85" y2="160.86" stroke="#2448e0" stroke-width="2.0"/>
<line x1="667.65" y1="160.76" x2="674.35" y2="160.76" stroke="#2448e0" stroke-width="2.0"/>
<line x1="695.60" y1="160.61" x2="702.80" y2="160.71" stroke="#f0b4b4" stroke-width="1.7"/>
<line x1="702.80" y1="160.71" x2="710.10" y2="160.71" stroke="#2448e0" stroke-width="2.0"/>
<line x1="688.90" y1="160.61" x2="695.60" y2="160.61" stroke="#2448e0" stroke-width="2.0"/>
<circle cx="540.15" cy="161.75" r="2.8" fill="url(#gN)"/>
<circle cx="561.40" cy="161.60" r="2.8" fill="url(#gN)"/>
<circle cx="582.65" cy="161.45" r="2.8" fill="url(#gN)"/>
<circle cx="603.90" cy="161.30" r="2.8" fill="url(#gN)"/>
<circle cx="625.15" cy="161.15" r="2.8" fill="url(#gN)"/>
<circle cx="646.40" cy="161.00" r="2.8" fill="url(#gN)"/>
<circle cx="667.65" cy="160.86" r="2.8" fill="url(#gN)"/>
<circle cx="688.90" cy="160.71" r="2.8" fill="url(#gN)"/>
<circle cx="546.85" cy="161.65" r="4.4" fill="url(#gB)"/>
<circle cx="568.10" cy="161.50" r="4.4" fill="url(#gB)"/>
<circle cx="589.35" cy="161.35" r="4.4" fill="url(#gB)"/>
<circle cx="610.60" cy="161.20" r="4.4" fill="url(#gB)"/>
<circle cx="631.85" cy="161.05" r="4.4" fill="url(#gB)"/>
<circle cx="653.10" cy="160.90" r="4.4" fill="url(#gB)"/>
<circle cx="674.35" cy="160.76" r="4.4" fill="url(#gB)"/>
<circle cx="695.60" cy="160.61" r="4.4" fill="url(#gB)"/>
<line x1="560" y1="200.23" x2="695" y2="199.69" stroke="#5a5a5a" stroke-width="1.2"/>
<circle cx="542.85" cy="200.18" r="2.7" fill="#4e4e4e"/>
<circle cx="549.85" cy="200.18" r="2.7" fill="#4e4e4e"/>
<circle cx="564.10" cy="200.10" r="2.7" fill="#4e4e4e"/>
<circle cx="571.10" cy="200.10" r="2.7" fill="#4e4e4e"/>
<circle cx="585.35" cy="200.01" r="2.7" fill="#4e4e4e"/>
<circle cx="592.35" cy="200.01" r="2.7" fill="#4e4e4e"/>
<circle cx="606.60" cy="199.93" r="2.7" fill="#4e4e4e"/>
<circle cx="613.60" cy="199.93" r="2.7" fill="#4e4e4e"/>
<circle cx="627.85" cy="199.84" r="2.7" fill="#4e4e4e"/>
<circle cx="634.85" cy="199.84" r="2.7" fill="#4e4e4e"/>
<circle cx="649.10" cy="199.76" r="2.7" fill="#4e4e4e"/>
<circle cx="656.10" cy="199.76" r="2.7" fill="#4e4e4e"/>
<circle cx="670.35" cy="199.67" r="2.7" fill="#4e4e4e"/>
<circle cx="677.35" cy="199.67" r="2.7" fill="#4e4e4e"/>
<circle cx="691.60" cy="199.59" r="2.7" fill="#4e4e4e"/>
<circle cx="698.60" cy="199.59" r="2.7" fill="#4e4e4e"/>
<line x1="560" y1="201.93" x2="695" y2="201.39" stroke="#8a8a8a" stroke-width="1.5"/>
<line x1="560" y1="203.53" x2="695" y2="202.99" stroke="#cfcfcf" stroke-width="1.2"/>
<circle cx="539.85" cy="202.58" r="3.4" fill="url(#gG)"/>
<circle cx="546.85" cy="202.58" r="3.4" fill="url(#gG)"/>
<circle cx="561.10" cy="202.50" r="3.4" fill="url(#gG)"/>
<circle cx="568.10" cy="202.50" r="3.4" fill="url(#gG)"/>
<circle cx="582.35" cy="202.41" r="3.4" fill="url(#gG)"/>
<circle cx="589.35" cy="202.41" r="3.4" fill="url(#gG)"/>
<circle cx="603.60" cy="202.33" r="3.4" fill="url(#gG)"/>
<circle cx="610.60" cy="202.33" r="3.4" fill="url(#gG)"/>
<circle cx="624.85" cy="202.24" r="3.4" fill="url(#gG)"/>
<circle cx="631.85" cy="202.24" r="3.4" fill="url(#gG)"/>
<circle cx="646.10" cy="202.16" r="3.4" fill="url(#gG)"/>
<circle cx="653.10" cy="202.16" r="3.4" fill="url(#gG)"/>
<circle cx="667.35" cy="202.07" r="3.4" fill="url(#gG)"/>
<circle cx="674.35" cy="202.07" r="3.4" fill="url(#gG)"/>
<circle cx="688.60" cy="201.99" r="3.4" fill="url(#gG)"/>
<circle cx="695.60" cy="201.99" r="3.4" fill="url(#gG)"/>
</g>
<path d="M628.4 171.0V199.6" class="dash" style="stroke-dasharray:3.9 2.05"/>
<path transform="translate(628.50 165.20) rotate(-90.0)" d="M-6.0 -5.8 C-4.9 -2.5 -2.3 -0.6 0 0 C-2.3 0.6 -4.9 2.5 -6.0 5.8" fill="none" stroke="#000" stroke-width="1.85" stroke-linecap="round" stroke-linejoin="round"/>
<path transform="translate(628.50 202.50) rotate(90.0)" d="M-6.0 -5.8 C-4.9 -2.5 -2.3 -0.6 0 0 C-2.3 0.6 -4.9 2.5 -6.0 5.8" fill="none" stroke="#000" stroke-width="1.85" stroke-linecap="round" stroke-linejoin="round"/>
<text x="652.4" y="187.9" class="bd" text-anchor="middle" textLength="42" lengthAdjust="spacingAndGlyphs">3.34 Å</text>
<rect x="567.80" y="137.00" width="118.25" height="86.60" class="frame2"/>
</svg>
</body>
</html>
